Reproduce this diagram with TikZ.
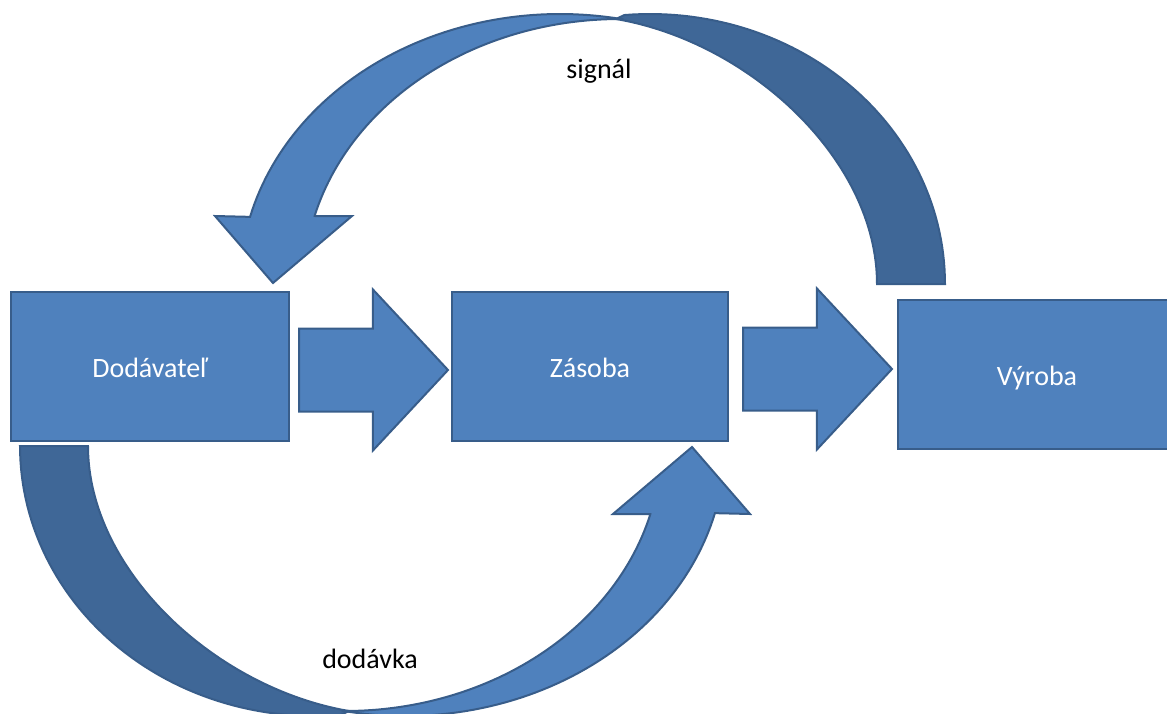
\documentclass[tikz,border=0pt]{standalone}
\usepackage{fontspec}
\setmainfont{Carlito}
\usetikzlibrary{positioning, shapes.arrows}
\definecolor{boxblue}{HTML}{4F81BD}
\definecolor{boxline}{HTML}{385D8A}
\definecolor{bandshade}{HTML}{3F6797}
\tikzset{
	zahnuta/.pic ={
		\filldraw[fill=bandshade, draw=boxline] (945,284) -- plot[domain=0:95, samples=60, variable=\t] ({650+295*cos(\t)},{284-270*sin(\t)}) -- (616,19) .. controls (750,42) and (877,160) .. (877,284) -- cycle;
		\filldraw[fill=boxblue, draw=boxline] (215,216) -- (273,283) -- (352,216) -- (315,216) -- plot[domain=165.1:89.6, samples=60, variable=\t] ({620+316*cos(\t)},{284-265*sin(\t)}) -- plot[domain=78.8:165.6, samples=60, variable=\t] ({560+320*cos(\t)},{284-270*sin(\t)}) -- cycle;
	}
}

\begin{document}
\begin{tikzpicture} [x=1pt, y=-1pt, node distance =440pt and 440pt ,on grid, line width=2pt,
	box/.style ={rectangle, fill=boxblue, draw=boxline, minimum width=278pt, minimum height=149pt, inner sep=0pt, text=white, font=\fontsize{28}{30}\selectfont, text height=21pt, text depth=0pt},
	blockarrow/.style ={single arrow, fill=boxblue, draw=boxline, minimum height=149pt, single arrow head extend=39pt, single arrow tip angle=94, inner xsep=0pt, inner ysep=40.5pt},
	popis/.style ={anchor=base, text=black, font=\fontsize{28}{30}\selectfont}]
		\useasboundingbox (0,0) rectangle (1167,713);
		\node[box] (dodavatel) at (150,366.5) {Dodávateľ};
		\node[box, minimum width=276pt] (zasoba) [right=of dodavatel] {Zásoba};
		\node[box] (vyroba) [right=447pt of zasoba, yshift=-8pt] {Výroba};
		\node[blockarrow, anchor=tail] (sipka1) at ([xshift=8pt, yshift=-3.5pt]dodavatel.east) {};
		\node[blockarrow, anchor=tail] (sipka2) at ([xshift=13pt, yshift=-2.5pt]zasoba.east) {};
		% signal: vyroba -> dodavatel, dodavka: dodavatel -> zasoba
		\pic (signalarrow) at (0,0) {zahnuta};
		\pic[scale=-1] (dodavkaarrow) at (965,730) {zahnuta};
		\node[popis] (signal) at (599,78) {signál};
		\node[popis] (dodavka) at (370,668) {dodávka};
	\end{tikzpicture}
\end{document}
